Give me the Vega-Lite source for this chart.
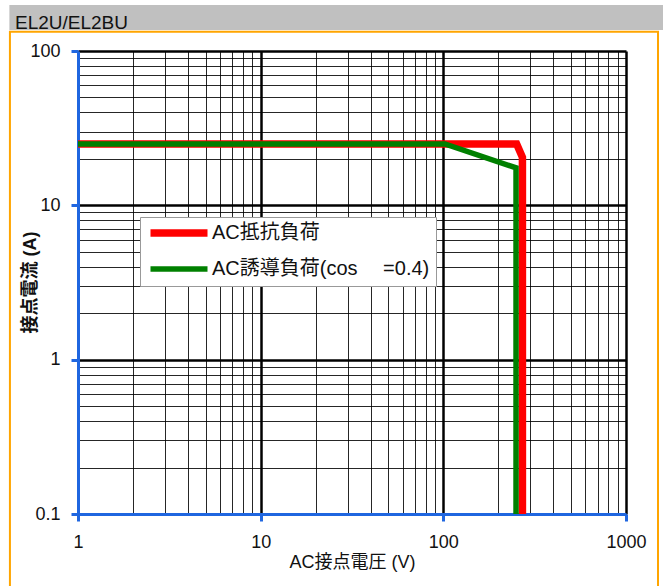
{
  "$schema": "https://vega.github.io/schema/vega-lite/v6.json",
  "width": 548,
  "height": 463,
  "autosize": {"type": "none"},
  "padding": {"left": 78, "top": 51, "right": 37, "bottom": 72},
  "background": "white",
  "title": {
    "text": "EL2U/EL2BU",
    "anchor": "start",
    "frame": "group",
    "orient": "top",
    "baseline": "alphabetic",
    "offset": 0,
    "dx": -63,
    "dy": 43,
    "fontSize": 19,
    "fontWeight": "normal",
    "font": "Liberation Sans",
    "color": "#111"
  },
  "datasets": {
    "curves": [
      {"series": "AC抵抗負荷", "voltage": 1, "current": 25},
      {"series": "AC抵抗負荷", "voltage": 252, "current": 25},
      {"series": "AC抵抗負荷", "voltage": 271, "current": 20.5},
      {"series": "AC抵抗負荷", "voltage": 271, "current": 0.1},
      {"series": "AC誘導負荷(cos　 =0.4)", "voltage": 1, "current": 25},
      {"series": "AC誘導負荷(cos　 =0.4)", "voltage": 102, "current": 25},
      {"series": "AC誘導負荷(cos　 =0.4)", "voltage": 250, "current": 17.5},
      {"series": "AC誘導負荷(cos　 =0.4)", "voltage": 250, "current": 0.1}
    ]
  },
  "layer": [
    {
      "data": {"values": [{}]},
      "mark": {"type": "rect", "fill": "#c0c0c0", "stroke": null},
      "encoding": {
        "x": {"datum": 0.421, "type": "quantitative", "scale": {"type": "log", "domain": [1, 1000], "nice": false}},
        "x2": {"datum": 3000},
        "y": {"datum": 199, "type": "quantitative", "scale": {"type": "log", "domain": [0.1, 100], "nice": false}},
        "y2": {"datum": 136.8}
      }
    },
    {
      "data": {"values": [{}]},
      "mark": {"type": "rect", "filled": false, "stroke": "#ffa500", "strokeWidth": 2},
      "encoding": {
        "x": {"datum": 0.424, "type": "quantitative"},
        "x2": {"datum": 1497},
        "y": {"datum": 133.4, "type": "quantitative"},
        "y2": {"datum": 0.0277}
      }
    },
    {
      "data": {"name": "curves"},
      "mark": {"type": "line", "strokeJoin": "miter", "strokeCap": "butt"},
      "encoding": {
        "x": {
          "field": "voltage",
          "type": "quantitative",
          "scale": {"type": "log", "domain": [1, 1000], "nice": false},
          "axis": {
            "title": "AC接点電圧 (V)",
            "values": [1, 2, 3, 4, 5, 6, 7, 8, 9, 10, 20, 30, 40, 50, 60, 70, 80, 90, 100, 200, 300, 400, 500, 600, 700, 800, 900, 1000],
            "labelExpr": "abs(log(datum.value)/LN10 - round(log(datum.value)/LN10)) < 1e-6 ? format(datum.value, '~g') : ''",
            "labelPadding": 12,
            "titleY": 48,
            "titleX": 274,
            "titleBaseline": "middle"
          }
        },
        "y": {
          "field": "current",
          "type": "quantitative",
          "scale": {"type": "log", "domain": [0.1, 100], "nice": false},
          "axis": {
            "title": "接点電流 (A)",
            "values": [0.1, 0.2, 0.3, 0.4, 0.5, 0.6, 0.7, 0.8, 0.9, 1, 2, 3, 4, 5, 6, 7, 8, 9, 10, 20, 30, 40, 50, 60, 70, 80, 90, 100],
            "labelExpr": "abs(log(datum.value)/LN10 - round(log(datum.value)/LN10)) < 1e-6 ? format(datum.value, '~g') : ''",
            "labelPadding": 11,
            "titleFontWeight": "bold",
            "titleX": -48,
            "titleY": 231,
            "titleBaseline": "middle"
          }
        },
        "color": {
          "field": "series",
          "type": "nominal",
          "scale": {"domain": ["AC抵抗負荷", "AC誘導負荷(cos　 =0.4)"], "range": ["#ff0000", "#008000"]}
        },
        "strokeWidth": {
          "field": "series",
          "type": "nominal",
          "scale": {"domain": ["AC抵抗負荷", "AC誘導負荷(cos　 =0.4)"], "range": [7.5, 5.5]}
        }
      }
    }
  ],
  "config": {
    "font": "Liberation Sans, Noto Sans CJK JP",
    "view": {"stroke": null, "fill": "white"},
    "axis": {
      "grid": true,
      "gridColor": "#000",
      "gridWidth": {"condition": {"test": "abs(log(datum.value)/LN10 - round(log(datum.value)/LN10)) < 1e-6", "value": 2.5}, "value": 1},
      "gridOpacity": {"condition": {"test": "abs(log(datum.value)/LN10 - round(log(datum.value)/LN10)) < 1e-6", "value": 1}, "value": 0.85},
      "domainColor": "#1f66e0",
      "domainWidth": 3,
      "tickColor": "#1f66e0",
      "tickWidth": 3,
      "tickSize": 7,
      "tickOpacity": {"condition": {"test": "abs(log(datum.value)/LN10 - round(log(datum.value)/LN10)) < 1e-6", "value": 1}, "value": 0},
      "labelFontSize": 18,
      "labelColor": "#111",
      "labelFont": "Liberation Sans",
      "titleFontSize": 18,
      "titleFontWeight": "normal",
      "titleColor": "#111",
      "labelOverlap": false,
      "labelFlush": false
    },
    "legend": {
      "orient": "none",
      "legendX": 62,
      "legendY": 166,
      "title": null,
      "fillColor": "white",
      "strokeColor": "#999",
      "padding": 6,
      "labelFontSize": 20,
      "labelColor": "#111",
      "labelLimit": 400,
      "symbolType": "M-5,0H5",
      "symbolSize": 130,
      "symbolOffset": 23,
      "rowPadding": 10,
      "labelOffset": 23
    }
  }
}
